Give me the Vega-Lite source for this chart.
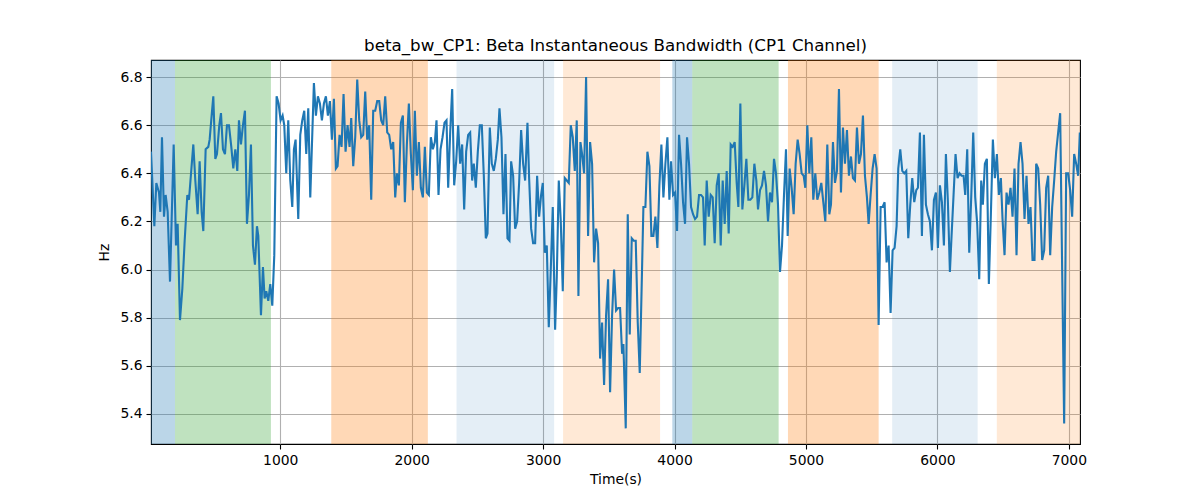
{
  "$schema": "https://vega.github.io/schema/vega-lite/v6.json",
  "width": 929,
  "height": 384,
  "autosize": {"type": "none"},
  "padding": {"left": 151, "top": 60, "right": 120, "bottom": 56},
  "background": "white",
  "config": {
    "font": "DejaVu Sans",
    "view": {"stroke": "black", "strokeWidth": 1.1},
    "axis": {
      "grid": true,
      "gridColor": "#b0b0b0",
      "gridWidth": 1.1,
      "domain": false,
      "tickColor": "black",
      "tickSize": 5,
      "tickWidth": 1.1,
      "labelFont": "DejaVu Sans",
      "labelFontSize": 13.9,
      "labelColor": "black",
      "labelPadding": 4,
      "titleFont": "DejaVu Sans",
      "titleFontSize": 13.9,
      "titleFontWeight": "normal",
      "titleColor": "black"
    }
  },
  "title": {
    "text": "beta_bw_CP1: Beta Instantaneous Bandwidth (CP1 Channel)",
    "font": "DejaVu Sans",
    "fontSize": 16.7,
    "fontWeight": "normal",
    "color": "black",
    "anchor": "middle",
    "baseline": "alphabetic",
    "offset": -8
  },
  "datasets": {
    "bands": [
      {"start": 0, "end": 199, "kind": "A"},
      {"start": 199, "end": 929, "kind": "B"},
      {"start": 1388, "end": 2123, "kind": "C"},
      {"start": 2341, "end": 3084, "kind": "D"},
      {"start": 3152, "end": 3890, "kind": "E"},
      {"start": 3983, "end": 4135, "kind": "A"},
      {"start": 4135, "end": 4792, "kind": "B"},
      {"start": 4863, "end": 5553, "kind": "C"},
      {"start": 5656, "end": 6306, "kind": "D"},
      {"start": 6452, "end": 7200, "kind": "E"}
    ],
    "series": [
      {"t":16.5,"hz":6.49},{"t":41.9,"hz":6.18},{"t":57,"hz":6.36},{"t":77.4,"hz":6.32},{"t":87.5,"hz":6.24},{"t":100,"hz":6.55},{"t":115.4,"hz":6.22},{"t":128,"hz":6.31},{"t":143.3,"hz":6.24},{"t":161,"hz":5.95},{"t":189,"hz":6.52},{"t":206.6,"hz":6.10},{"t":219.3,"hz":6.19},{"t":237,"hz":5.79},{"t":254.8,"hz":5.92},{"t":272.6,"hz":6.12},{"t":292.8,"hz":6.31},{"t":305.5,"hz":6.29},{"t":328.3,"hz":6.45},{"t":338.5,"hz":6.52},{"t":353.7,"hz":6.37},{"t":371.4,"hz":6.23},{"t":386.6,"hz":6.45},{"t":401.8,"hz":6.24},{"t":414.5,"hz":6.16},{"t":432.3,"hz":6.50},{"t":452.5,"hz":6.51},{"t":462.7,"hz":6.54},{"t":477.9,"hz":6.64},{"t":490.6,"hz":6.72},{"t":505.8,"hz":6.46},{"t":518.4,"hz":6.48},{"t":536.2,"hz":6.60},{"t":548.9,"hz":6.65},{"t":564.1,"hz":6.50},{"t":579.3,"hz":6.48},{"t":594.5,"hz":6.60},{"t":609.7,"hz":6.60},{"t":627.5,"hz":6.51},{"t":642.7,"hz":6.42},{"t":657.9,"hz":6.50},{"t":673.1,"hz":6.41},{"t":685.8,"hz":6.62},{"t":701,"hz":6.52},{"t":716.2,"hz":6.60},{"t":731.4,"hz":6.66},{"t":746.6,"hz":6.19},{"t":761.8,"hz":6.31},{"t":777,"hz":6.52},{"t":792.2,"hz":6.10},{"t":807.4,"hz":6.02},{"t":822.7,"hz":6.18},{"t":832.8,"hz":6.14},{"t":853.1,"hz":5.81},{"t":868.3,"hz":6.01},{"t":881,"hz":5.88},{"t":893.6,"hz":5.91},{"t":908.8,"hz":5.87},{"t":924,"hz":5.94},{"t":939.3,"hz":5.85},{"t":954.5,"hz":6.06},{"t":972.2,"hz":6.72},{"t":987.4,"hz":6.69},{"t":1002.6,"hz":6.62},{"t":1017.8,"hz":6.64},{"t":1030.5,"hz":6.60},{"t":1045.7,"hz":6.40},{"t":1060.9,"hz":6.62},{"t":1076.2,"hz":6.37},{"t":1091.4,"hz":6.26},{"t":1104,"hz":6.50},{"t":1116.7,"hz":6.54},{"t":1137,"hz":6.21},{"t":1152.2,"hz":6.56},{"t":1167.4,"hz":6.62},{"t":1182.6,"hz":6.66},{"t":1197.8,"hz":6.48},{"t":1213,"hz":6.67},{"t":1228.3,"hz":6.30},
      {"t":1256,"hz":6.775},{"t":1271.2,"hz":6.64},{"t":1286.5,"hz":6.72},{"t":1301.7,"hz":6.69},{"t":1316.9,"hz":6.62},{"t":1332.1,"hz":6.69},{"t":1347.3,"hz":6.72},{"t":1362.5,"hz":6.64},{"t":1377.7,"hz":6.70},{"t":1392.9,"hz":6.54},{"t":1408.1,"hz":6.71},{"t":1423.3,"hz":6.42},{"t":1436,"hz":6.43},{"t":1451.2,"hz":6.56},{"t":1466.4,"hz":6.51},{"t":1481.6,"hz":6.73},{"t":1496.9,"hz":6.49},{"t":1512.1,"hz":6.60},{"t":1527.3,"hz":6.51},{"t":1540,"hz":6.63},{"t":1555.2,"hz":6.43},{"t":1570.4,"hz":6.55},{"t":1585.6,"hz":6.79},{"t":1600.8,"hz":6.62},{"t":1616,"hz":6.55},{"t":1631.2,"hz":6.56},{"t":1646.4,"hz":6.74},{"t":1661.6,"hz":6.54},{"t":1676.8,"hz":6.60},{"t":1692.1,"hz":6.29},{"t":1707.3,"hz":6.66},{"t":1722.5,"hz":6.66},{"t":1737.7,"hz":6.70},{"t":1752.9,"hz":6.70},{"t":1768.1,"hz":6.62},{"t":1783.3,"hz":6.60},{"t":1798.5,"hz":6.72},{"t":1813.7,"hz":6.57},{"t":1828.9,"hz":6.56},{"t":1844.2,"hz":6.50},{"t":1859.4,"hz":6.53},{"t":1874.6,"hz":6.30},{"t":1887.3,"hz":6.40},{"t":1902.5,"hz":6.35},{"t":1917.7,"hz":6.61},{"t":1932.9,"hz":6.64},{"t":1948.1,"hz":6.28},{"t":1963.3,"hz":6.52},{"t":1978.5,"hz":6.69},{"t":1993.7,"hz":6.48},{"t":2008.9,"hz":6.33},{"t":2024.1,"hz":6.66},{"t":2039.4,"hz":6.39},{"t":2054.6,"hz":6.53},{"t":2069.8,"hz":6.34},{"t":2085,"hz":6.30},{"t":2100.2,"hz":6.51},{"t":2115.4,"hz":6.32},{"t":2130.6,"hz":6.31},{"t":2145.8,"hz":6.55},{"t":2161,"hz":6.50},{"t":2176.2,"hz":6.53},{"t":2188.9,"hz":6.62},{"t":2204.1,"hz":6.31},{"t":2219.4,"hz":6.50},{"t":2234.6,"hz":6.55},{"t":2249.8,"hz":6.61},{"t":2265,"hz":6.62},{"t":2277.7,"hz":6.34},{"t":2292.9,"hz":6.57},{"t":2308.1,"hz":6.75},{"t":2323.3,"hz":6.35},{"t":2338.5,"hz":6.45},{"t":2353.7,"hz":6.60},{"t":2368.9,"hz":6.44},{"t":2384.1,"hz":6.52},{"t":2399.3,"hz":6.25},{"t":2414.5,"hz":6.49},{"t":2429.7,"hz":6.56},{"t":2445,"hz":6.57},
      {"t":2460,"hz":6.37},{"t":2472.7,"hz":6.44},{"t":2487.9,"hz":6.34},{"t":2503.2,"hz":6.49},{"t":2518.4,"hz":6.60},{"t":2533.6,"hz":6.60},{"t":2548.8,"hz":6.39},{"t":2564,"hz":6.13},{"t":2576.7,"hz":6.15},{"t":2594.4,"hz":6.59},{"t":2609.6,"hz":6.44},{"t":2624.8,"hz":6.41},{"t":2640,"hz":6.46},{"t":2655.3,"hz":6.54},{"t":2667.9,"hz":6.67},{"t":2683.1,"hz":6.55},{"t":2698.4,"hz":6.23},{"t":2713.6,"hz":6.48},{"t":2728.8,"hz":6.13},{"t":2744,"hz":6.12},{"t":2756.7,"hz":6.45},{"t":2771.9,"hz":6.39},{"t":2787.1,"hz":6.17},{"t":2802.3,"hz":6.20},{"t":2817.5,"hz":6.36},{"t":2832.7,"hz":6.58},{"t":2847.9,"hz":6.44},{"t":2863.1,"hz":6.37},{"t":2880.9,"hz":6.61},{"t":2893.5,"hz":6.38},{"t":2908.8,"hz":6.17},{"t":2924,"hz":6.11},{"t":2939.2,"hz":6.11},{"t":2954.4,"hz":6.39},{"t":2969.6,"hz":6.22},{"t":2984.8,"hz":6.31},{"t":2997.5,"hz":6.36},{"t":3012.7,"hz":6.07},{"t":3027.9,"hz":6.10},{"t":3043.1,"hz":5.76},{"t":3058.3,"hz":6.00},{"t":3073.5,"hz":6.26},{"t":3091.3,"hz":5.75},{"t":3104,"hz":5.97},{"t":3119.2,"hz":6.37},{"t":3134.4,"hz":6.20},{"t":3149.6,"hz":5.91},{"t":3164.8,"hz":6.38},{"t":3180,"hz":6.37},{"t":3195.2,"hz":6.36},{"t":3210.4,"hz":6.60},{"t":3225.6,"hz":6.55},{"t":3240.8,"hz":6.41},{"t":3256,"hz":6.62},{"t":3268.7,"hz":5.89},{"t":3283.9,"hz":6.53},{"t":3296.6,"hz":6.48},{"t":3311.8,"hz":6.40},{"t":3327,"hz":6.80},{"t":3342.2,"hz":6.14},{"t":3357.4,"hz":6.53},{"t":3372.7,"hz":6.44},{"t":3387.9,"hz":6.03},{"t":3403.1,"hz":6.17},{"t":3418.3,"hz":6.11},{"t":3433.5,"hz":5.63},{"t":3448.7,"hz":5.78},{"t":3463.9,"hz":5.52},{"t":3479.1,"hz":5.81},{"t":3494.3,"hz":5.96},{"t":3509.6,"hz":5.49},{"t":3524.8,"hz":5.81},{"t":3540,"hz":6.00},{"t":3555.2,"hz":5.83},{"t":3570.4,"hz":5.84},{"t":3585.6,"hz":5.84},{"t":3600.8,"hz":5.65},{"t":3611,"hz":5.69},{"t":3628.7,"hz":5.34},{"t":3643.9,"hz":6.23},{"t":3659.1,"hz":5.73},
      {"t":3674.3,"hz":6.13},{"t":3689.5,"hz":6.12},{"t":3704.7,"hz":6.12},{"t":3720,"hz":5.78},{"t":3735.2,"hz":5.57},{"t":3749,"hz":5.91},{"t":3763,"hz":6.26},{"t":3778.3,"hz":6.26},{"t":3793.5,"hz":6.49},{"t":3808.7,"hz":6.43},{"t":3823.9,"hz":6.14},{"t":3839.1,"hz":6.14},{"t":3854.3,"hz":6.22},{"t":3869.5,"hz":6.09},{"t":3884.7,"hz":6.35},{"t":3899.9,"hz":6.52},{"t":3915.2,"hz":6.30},{"t":3930.4,"hz":6.44},{"t":3945.6,"hz":6.55},{"t":3960.8,"hz":6.29},{"t":3973.5,"hz":6.45},{"t":3988.7,"hz":6.31},{"t":4003.9,"hz":6.32},{"t":4019.1,"hz":6.16},{"t":4034.3,"hz":6.56},{"t":4049.5,"hz":6.44},{"t":4064.7,"hz":6.28},{"t":4079.9,"hz":6.19},{"t":4095.1,"hz":6.55},{"t":4110.3,"hz":6.44},{"t":4125.6,"hz":6.26},{"t":4140.8,"hz":6.23},{"t":4156,"hz":6.21},{"t":4171.2,"hz":6.22},{"t":4186.4,"hz":6.31},{"t":4201.6,"hz":6.31},{"t":4216.8,"hz":6.30},{"t":4229.5,"hz":6.10},{"t":4244.7,"hz":6.37},{"t":4259.9,"hz":6.22},{"t":4275.1,"hz":6.31},{"t":4290.3,"hz":6.30},{"t":4305.5,"hz":6.11},{"t":4320.8,"hz":6.35},{"t":4336,"hz":6.40},{"t":4351.2,"hz":6.10},{"t":4366.4,"hz":6.37},{"t":4381.6,"hz":6.19},{"t":4396.8,"hz":6.41},{"t":4412,"hz":6.15},{"t":4427.2,"hz":6.52},{"t":4442.4,"hz":6.51},{"t":4457.6,"hz":6.53},{"t":4472.9,"hz":6.36},{"t":4485.5,"hz":6.26},{"t":4500.7,"hz":6.69},{"t":4515.9,"hz":6.25},{"t":4531.2,"hz":6.35},{"t":4546.4,"hz":6.46},{"t":4561.6,"hz":6.29},{"t":4576.8,"hz":6.29},{"t":4592,"hz":6.30},{"t":4607.2,"hz":6.44},{"t":4622.4,"hz":6.37},{"t":4635.1,"hz":6.25},{"t":4650.3,"hz":6.33},{"t":4665.5,"hz":6.35},{"t":4680.7,"hz":6.41},{"t":4695.9,"hz":6.35},{"t":4711.1,"hz":6.20},{"t":4726.3,"hz":6.32},{"t":4741.6,"hz":6.28},{"t":4756.8,"hz":6.46},{"t":4772,"hz":6.40},{"t":4787.2,"hz":6.27},{"t":4802.4,"hz":5.99},{"t":4817.6,"hz":6.10},{"t":4832.8,"hz":6.31},{"t":4848,"hz":6.50},{"t":4860.7,"hz":6.14},{"t":4875.9,"hz":6.42},
      {"t":4891,"hz":6.34},{"t":4906.2,"hz":6.23},{"t":4921.4,"hz":6.44},{"t":4936.7,"hz":6.54},{"t":4951.9,"hz":6.48},{"t":4967.1,"hz":6.40},{"t":4982.3,"hz":6.39},{"t":4995,"hz":6.34},{"t":5010.2,"hz":6.60},{"t":5025.4,"hz":6.40},{"t":5040.6,"hz":6.55},{"t":5055.8,"hz":6.29},{"t":5071,"hz":6.40},{"t":5086.2,"hz":6.29},{"t":5101.4,"hz":6.32},{"t":5116.6,"hz":6.36},{"t":5131.9,"hz":6.28},{"t":5147.1,"hz":6.20},{"t":5162.3,"hz":6.52},{"t":5177.5,"hz":6.23},{"t":5190.2,"hz":6.27},{"t":5205.4,"hz":6.53},{"t":5220.6,"hz":6.36},{"t":5235.8,"hz":6.41},{"t":5251,"hz":6.75},{"t":5266.2,"hz":6.32},{"t":5281.4,"hz":6.59},{"t":5296.6,"hz":6.44},{"t":5311.8,"hz":6.58},{"t":5327,"hz":6.39},{"t":5342.3,"hz":6.47},{"t":5357.5,"hz":6.38},{"t":5372.7,"hz":6.37},{"t":5387.9,"hz":6.59},{"t":5403.1,"hz":6.44},{"t":5418.3,"hz":6.48},{"t":5433.5,"hz":6.64},{"t":5448.7,"hz":6.39},{"t":5463.9,"hz":6.30},{"t":5476.6,"hz":6.19},{"t":5491.8,"hz":6.31},{"t":5507,"hz":6.42},{"t":5522.2,"hz":6.48},{"t":5537.5,"hz":6.42},{"t":5552.7,"hz":5.77},{"t":5567.9,"hz":6.26},{"t":5583.1,"hz":6.26},{"t":5598.3,"hz":6.28},{"t":5613.5,"hz":6.03},{"t":5628.7,"hz":6.10},{"t":5643.9,"hz":5.82},{"t":5659.1,"hz":6.08},{"t":5674.3,"hz":6.09},{"t":5689.5,"hz":6.18},{"t":5702.2,"hz":6.42},{"t":5717.4,"hz":6.50},{"t":5732.7,"hz":6.41},{"t":5747.9,"hz":6.40},{"t":5763.1,"hz":6.41},{"t":5778.3,"hz":6.13},{"t":5793.5,"hz":6.27},{"t":5808.7,"hz":6.38},{"t":5823.9,"hz":6.28},{"t":5839.1,"hz":6.33},{"t":5851.8,"hz":6.34},{"t":5867,"hz":6.57},{"t":5882.2,"hz":6.14},{"t":5897.4,"hz":6.56},{"t":5912.6,"hz":6.27},{"t":5927.8,"hz":6.23},{"t":5943.1,"hz":6.20},{"t":5958.3,"hz":6.08},{"t":5973.5,"hz":6.29},{"t":5988.7,"hz":6.32},{"t":6003.9,"hz":6.09},{"t":6019.1,"hz":6.35},{"t":6034.3,"hz":6.28},{"t":6049.5,"hz":6.10},{"t":6064.7,"hz":6.48},{"t":6079.9,"hz":6.28},{"t":6095.1,"hz":5.99},
      {"t":6107.7,"hz":6.14},{"t":6122.9,"hz":6.31},{"t":6138.1,"hz":6.48},{"t":6153.4,"hz":6.38},{"t":6168.6,"hz":6.40},{"t":6183.8,"hz":6.39},{"t":6199,"hz":6.39},{"t":6211.7,"hz":6.31},{"t":6226.9,"hz":6.50},{"t":6242.1,"hz":6.07},{"t":6257.3,"hz":6.30},{"t":6272.5,"hz":6.57},{"t":6287.7,"hz":6.30},{"t":6302.9,"hz":6.19},{"t":6318.1,"hz":5.96},{"t":6333.3,"hz":6.37},{"t":6346,"hz":6.27},{"t":6361.2,"hz":6.44},{"t":6376.4,"hz":6.46},{"t":6391.6,"hz":5.94},{"t":6406.9,"hz":6.23},{"t":6422.1,"hz":6.54},{"t":6437.3,"hz":6.38},{"t":6452.5,"hz":6.48},{"t":6467.7,"hz":6.31},{"t":6482.9,"hz":6.38},{"t":6495.6,"hz":6.21},{"t":6510.8,"hz":6.06},{"t":6526,"hz":6.32},{"t":6541.2,"hz":6.27},{"t":6556.4,"hz":6.34},{"t":6571.6,"hz":6.22},{"t":6586.8,"hz":6.42},{"t":6602,"hz":6.06},{"t":6617.3,"hz":6.44},{"t":6632.5,"hz":6.53},{"t":6647.7,"hz":6.44},{"t":6662.9,"hz":6.21},{"t":6678.1,"hz":6.39},{"t":6693.3,"hz":6.19},{"t":6708.5,"hz":6.26},{"t":6723.7,"hz":6.04},{"t":6738.9,"hz":6.04},{"t":6751.6,"hz":6.44},{"t":6766.8,"hz":6.42},{"t":6782,"hz":6.27},{"t":6797.2,"hz":6.04},{"t":6812.4,"hz":6.08},{"t":6827.6,"hz":6.34},{"t":6842.9,"hz":6.39},{"t":6858.1,"hz":6.06},{"t":6873.3,"hz":6.26},{"t":6888.5,"hz":6.37},{"t":6903.7,"hz":6.49},{"t":6918.9,"hz":6.57},{"t":6934.1,"hz":6.65},{"t":6949.3,"hz":6.00},{"t":6964.5,"hz":5.36},{"t":6979.7,"hz":6.40},{"t":6994.9,"hz":6.40},{"t":7010.1,"hz":6.33},{"t":7025.3,"hz":6.22},{"t":7040.6,"hz":6.48},{"t":7055.8,"hz":6.44},{"t":7071,"hz":6.39},{"t":7083.7,"hz":6.57}
    ]
  },
  "layer": [
    {
      "data": {"name": "bands"},
      "mark": {"type": "rect", "clip": true},
      "encoding": {
        "x": {
          "field": "start",
          "type": "quantitative",
          "scale": {"domain": [16.5, 7085], "nice": false, "zero": false},
          "axis": {"title": "Time(s)", "values": [1000, 2000, 3000, 4000, 5000, 6000, 7000], "format": "d", "titlePadding": 6}
        },
        "x2": {"field": "end"},
        "color": {
          "field": "kind",
          "type": "nominal",
          "scale": {
            "domain": ["A", "B", "C", "D", "E"],
            "range": ["rgba(31,119,180,0.3)", "rgba(44,160,44,0.3)", "rgba(255,127,14,0.3)", "rgba(31,119,180,0.12)", "rgba(255,127,14,0.17)"]
          },
          "legend": null
        }
      }
    },
    {
      "data": {"name": "series"},
      "mark": {"type": "line", "color": "#1f77b4", "strokeWidth": 2.1, "clip": true},
      "encoding": {
        "x": {"field": "t", "type": "quantitative", "scale": {"domain": [16.5, 7085], "nice": false, "zero": false}},
        "y": {
          "field": "hz",
          "type": "quantitative",
          "scale": {"domain": [5.275, 6.871], "nice": false, "zero": false},
          "axis": {"title": "Hz", "values": [5.4, 5.6, 5.8, 6.0, 6.2, 6.4, 6.6, 6.8], "format": ".1f", "titlePadding": 8}
        }
      }
    }
  ]
}
